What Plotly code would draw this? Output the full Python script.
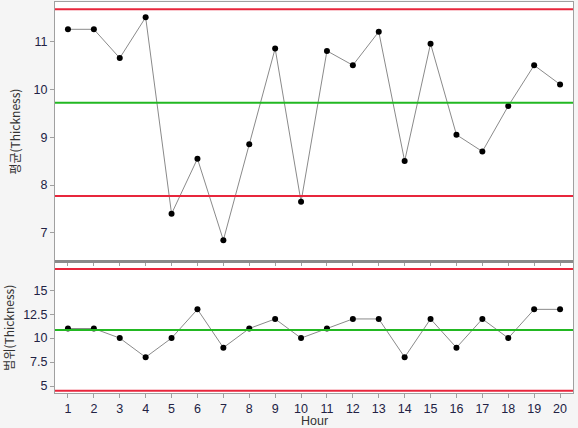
import plotly.graph_objects as go
from plotly.subplots import make_subplots

hours = list(range(1, 21))
mean_vals = [11.25, 11.25, 10.65, 11.5, 7.4, 8.55, 6.85, 8.85, 10.85, 7.65,
             10.8, 10.5, 11.2, 8.5, 10.95, 9.05, 8.7, 9.65, 10.5, 10.1]
range_vals = [11, 11, 10, 8, 10, 13, 9, 11, 12, 10,
              11, 12, 12, 8, 12, 9, 12, 10, 13, 13]

mean_limits = {'ucl': 11.67, 'cl': 9.72, 'lcl': 7.77}
range_limits = {'ucl': 17.2, 'cl': 10.85, 'lcl': 4.5}

font = 'Noto Sans CJK KR, DejaVu Sans, sans-serif'
tick_font = 'Liberation Sans, Arial, sans-serif'

fig = make_subplots(rows=2, cols=1, shared_xaxes=True,
                    vertical_spacing=0.003, row_heights=[0.665, 0.335])

for row, vals in [(1, mean_vals), (2, range_vals)]:
    fig.add_trace(go.Scatter(
        x=hours, y=vals, mode='lines+markers',
        line=dict(color='#8a8a8a', width=1),
        marker=dict(color='black', size=6),
        showlegend=False
    ), row=row, col=1)

for row, lim in [(1, mean_limits), (2, range_limits)]:
    fig.add_hline(y=lim['ucl'], line_color='#e8263c', line_width=2, row=row, col=1)
    fig.add_hline(y=lim['cl'], line_color='#22b822', line_width=2, row=row, col=1)
    fig.add_hline(y=lim['lcl'], line_color='#e8263c', line_width=2, row=row, col=1)

axis_style = dict(showgrid=False, zeroline=False, ticks='outside', ticklen=4,
                  tickcolor='#a0a0a0', showline=True, linecolor='#a0a0a0',
                  linewidth=1, mirror=True,
                  tickfont=dict(family=tick_font, size=12.5, color='#222244'))

fig.update_xaxes(**axis_style, range=[0.5, 20.5], tickmode='array', tickvals=hours,
                 automargin=False)
fig.update_yaxes(**axis_style)
fig.update_yaxes(range=[6.41, 11.82], tickvals=[7, 8, 9, 10, 11],
                 title_text='평균(Thickness)', row=1, col=1)
fig.update_yaxes(range=[4.27, 17.9], tickvals=[5, 7.5, 10, 12.5, 15],
                 ticktext=['5', '7.5', '10', '12.5', '15'],
                 title_text='범위(Thickness)', row=2, col=1)
fig.update_yaxes(title_font=dict(size=12, color='#333'), title_standoff=10)

# x axis title as annotation so it sits just under the tick labels
fig.add_annotation(text='Hour', xref='paper', yref='paper', x=0.5, y=-0.072,
                   yanchor='middle', showarrow=False,
                   font=dict(family=tick_font, size=12.5, color='#333'))

# gray separator between the two panels
fig.add_shape(type='line', xref='paper', yref='paper', x0=0, x1=1,
              y0=0.336, y1=0.336, line=dict(color='#8a8a8a', width=3))

fig.update_layout(
    width=578, height=428,
    margin=dict(l=55, r=5, t=2, b=35),
    paper_bgcolor='#f5f5f5', plot_bgcolor='white',
    font=dict(family=font, size=12)
)

fig.write_html("out.html", config={'displayModeBar': False},
               post_script="document.body.style.margin='0';")
